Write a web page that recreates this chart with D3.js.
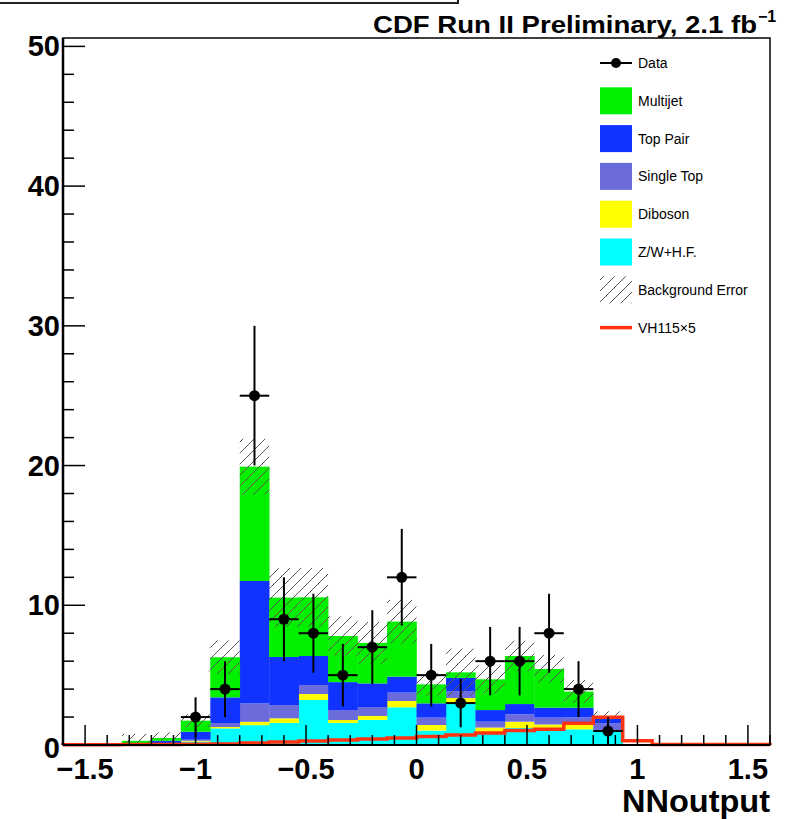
<!DOCTYPE html>
<html>
<head>
<meta charset="utf-8">
<script src="https://cdn.jsdelivr.net/npm/d3@7"></script>
<style>
  body { margin: 0; background: #fff; }
  svg { display: block; font-family: "Liberation Sans", Arial, Helvetica, sans-serif; }
</style>
</head>
<body>
<div id="chart"></div>
<script>
// histogram definition: 24 bins on [-1.6, 1.6]
const nBins = 24;
const xMin = -1.6;
const xMax = 1.6;

// stacked backgrounds, bottom to top (events per bin)
const zwHF = [0, 0, 0.02, 0.05, 0.24, 1.19, 1.42, 1.58, 3.22, 1.58, 1.8, 2.7, 1.03, 3.0, 0.85, 1.22, 1.15, 1.12, 0.95, 0, 0, 0, 0, 0];
const diboson = [0, 0, 0.01, 0.03, 0.06, 0.1, 0.24, 0.33, 0.43, 0.21, 0.28, 0.45, 0.4, 0.36, 0.4, 0.45, 0.32, 0.43, 0.1, 0, 0, 0, 0, 0];
const singleTop = [0, 0, 0.02, 0.04, 0.08, 0.28, 1.32, 0.95, 0.64, 0.71, 0.64, 0.6, 0.53, 0.49, 0.42, 0.53, 0.49, 0.43, 0.5, 0, 0, 0, 0, 0];
const topPair = [0, 0, 0.05, 0.18, 0.57, 1.84, 8.76, 3.44, 2.08, 2.0, 1.69, 1.14, 1.02, 0.95, 0.83, 0.73, 0.71, 0.69, 0.4, 0, 0, 0, 0, 0];
const multijet = [0, 0, 0.2, 0.2, 0.79, 2.87, 8.18, 4.25, 4.2, 3.3, 2.9, 3.94, 1.36, 0.4, 2.2, 3.44, 2.77, 1.15, 0.03, 0, 0, 0, 0, 0];

// background uncertainty (symmetric, around total)
const bkgErr = [0, 0, 0.5, 0.4, 0.46, 1.2, 2.0, 2.1, 2.1, 1.4, 1.5, 1.55, 0.8, 1.7, 1.0, 1.1, 1.0, 0.83, 0.43, 0, 0, 0, 0, 0];

// VH signal x5
const signal = [0.02, 0.02, 0.03, 0.04, 0.05, 0.07, 0.14, 0.22, 0.28, 0.36, 0.43, 0.5, 0.6, 0.72, 0.85, 1.03, 1.12, 1.55, 1.98, 0.31, 0.03, 0.03, 0.03, 0.03];

// observed events (null = empty bin)
const dataCounts = [null, null, null, null, 2, 4, 25, 9, 8, 5, 7, 12, 5, 3, 6, 6, 8, 4, 1, null, null, null, null, null];

const xTicks = [-1.5, -1, -0.5, 0, 0.5, 1, 1.5];
const yTicks = [0, 10, 20, 30, 40, 50];

const layers = [
  { name: "Z/W+H.F.", values: zwHF, color: "#00ffff" },
  { name: "Diboson", values: diboson, color: "#ffff00" },
  { name: "Single Top", values: singleTop, color: "#6b6bdc" },
  { name: "Top Pair", values: topPair, color: "#1033ff" },
  { name: "Multijet", values: multijet, color: "#00f000" },
];

const width = 785;
const height = 819;
const margin = { top: 38, right: 15, bottom: 74, left: 63 };

const svg = d3
  .select("#chart")
  .append("svg")
  .attr("width", width)
  .attr("height", height);

const x = d3.scaleLinear().domain([xMin, xMax]).range([margin.left, width - margin.right]);
const y = d3.scaleLinear().domain([0, 50.6]).range([height - margin.bottom, margin.top]);

const binW = (xMax - xMin) / nBins;
const bins = d3.range(nBins).map((i) => ({ i, lo: xMin + i * binW, hi: xMin + (i + 1) * binW }));

// hatch pattern for background error
const defs = svg.append("defs");
const pat = defs
  .append("pattern")
  .attr("id", "hatch")
  .attr("patternUnits", "userSpaceOnUse")
  .attr("width", 11)
  .attr("height", 11);
pat
  .append("path")
  .attr("d", "M-1,1 l2,-2 M0,11 l11,-11 M10,12 l2,-2")
  .attr("stroke", "#555")
  .attr("stroke-width", 1);

// the cut-off box at the very top
svg
  .append("rect")
  .attr("x", -5)
  .attr("y", -20)
  .attr("width", 463)
  .attr("height", 23)
  .attr("fill", "none")
  .attr("stroke", "#222")
  .attr("stroke-width", 2);

// stacked histograms
const stackG = svg.append("g");
let base = new Array(nBins).fill(0);
layers.forEach((layer) => {
  const lo = base.slice();
  const hi = base.map((b, i) => b + layer.values[i]);
  stackG
    .append("g")
    .selectAll("rect")
    .data(bins.filter((b) => layer.values[b.i] > 0))
    .join("rect")
    .attr("x", (b) => x(b.lo))
    .attr("width", (b) => x(b.hi) - x(b.lo) + 0.3)
    .attr("y", (b) => y(hi[b.i]))
    .attr("height", (b) => y(lo[b.i]) - y(hi[b.i]))
    .attr("fill", layer.color);
  base = hi;
});
const total = base;

// background error band
svg
  .append("g")
  .selectAll("rect")
  .data(bins.filter((b) => bkgErr[b.i] > 0))
  .join("rect")
  .attr("x", (b) => x(b.lo))
  .attr("width", (b) => x(b.hi) - x(b.lo))
  .attr("y", (b) => y(total[b.i] + bkgErr[b.i]))
  .attr("height", (b) => y(Math.max(0, total[b.i] - bkgErr[b.i])) - y(total[b.i] + bkgErr[b.i]))
  .attr("fill", "url(#hatch)");

// signal step line
const stepPts = [[xMin, 0]];
bins.forEach((b) => {
  stepPts.push([b.lo, signal[b.i]]);
  stepPts.push([b.hi, signal[b.i]]);
});
stepPts.push([xMax, 0]);
svg
  .append("path")
  .datum(stepPts)
  .attr("fill", "none")
  .attr("stroke", "#ff3311")
  .attr("stroke-width", 3.5)
  .attr("d", d3.line().x((d) => x(d[0])).y((d) => y(d[1])));

// axes frame and ticks
const frame = svg.append("g").attr("stroke", "#000");
frame
  .append("rect")
  .attr("x", x(xMin))
  .attr("y", y.range()[1])
  .attr("width", x(xMax) - x(xMin))
  .attr("height", y(0) - y.range()[1])
  .attr("fill", "none")
  .attr("stroke-width", 1.5);
frame
  .append("line")
  .attr("x1", x(xMin))
  .attr("x2", x(xMin))
  .attr("y1", y.range()[1])
  .attr("y2", y(0))
  .attr("stroke-width", 2.5);
frame
  .append("line")
  .attr("x1", x(xMin))
  .attr("x2", x(xMax))
  .attr("y1", y(0))
  .attr("y2", y(0))
  .attr("stroke-width", 2);

const xMinor = d3.range(-16, 17).map((k) => k / 10);
frame
  .selectAll(".xt")
  .data(xMinor)
  .join("line")
  .attr("x1", (d) => x(d))
  .attr("x2", (d) => x(d))
  .attr("y1", y(0))
  .attr("y2", (d) => y(0) - (Math.abs(d * 2 - Math.round(d * 2)) < 1e-6 ? 20 : 10))
  .attr("stroke-width", 1.5);

const yMinor = d3.range(0, 51, 2);
frame
  .selectAll(".yt")
  .data(yMinor)
  .join("line")
  .attr("x1", x(xMin))
  .attr("x2", (d) => x(xMin) + (d % 10 === 0 ? 22 : 11))
  .attr("y1", (d) => y(d))
  .attr("y2", (d) => y(d))
  .attr("stroke-width", 1.5);

// tick labels
svg
  .append("g")
  .selectAll("text")
  .data(xTicks)
  .join("text")
  .attr("x", (d) => x(d))
  .attr("y", y(0) + 34)
  .attr("text-anchor", "middle")
  .attr("font-size", 29)
  .attr("font-weight", "bold")
  .text((d) => (d < 0 ? "\u2212" + Math.abs(d) : d));

svg
  .append("g")
  .selectAll("text")
  .data(yTicks)
  .join("text")
  .attr("x", x(xMin) - 3)
  .attr("y", (d) => y(d) + (d === 0 ? 13 : 10))
  .attr("text-anchor", "end")
  .attr("font-size", 29)
  .attr("font-weight", "bold")
  .text((d) => d);

svg
  .append("text")
  .attr("x", 622)
  .attr("y", 812)
  .attr("font-size", 31)
  .attr("font-weight", "bold")
  .attr("textLength", 148)
  .attr("lengthAdjust", "spacingAndGlyphs")
  .text("NNoutput");

// title
const title = svg
  .append("g")
  .attr("font-weight", "bold");
title
  .append("text")
  .attr("x", 373)
  .attr("y", 33)
  .attr("font-size", 24)
  .attr("textLength", 384)
  .attr("lengthAdjust", "spacingAndGlyphs")
  .text("CDF Run II Preliminary, 2.1 fb");
title
  .append("text")
  .attr("x", 758)
  .attr("y", 22)
  .attr("font-size", 16)
  .text("\u22121");

// data points with errors
const dataBins = bins.filter((b) => dataCounts[b.i] != null);
const dataG = svg.append("g").attr("stroke", "#000").attr("stroke-width", 2);
dataG
  .selectAll(".ev")
  .data(dataBins)
  .join("line")
  .attr("x1", (b) => x((b.lo + b.hi) / 2))
  .attr("x2", (b) => x((b.lo + b.hi) / 2))
  .attr("y1", (b) => y(dataCounts[b.i] + Math.sqrt(dataCounts[b.i])))
  .attr("y2", (b) => y(Math.max(0, dataCounts[b.i] - Math.sqrt(dataCounts[b.i]))));
dataG
  .selectAll(".eh")
  .data(dataBins)
  .join("line")
  .attr("x1", (b) => x(b.lo))
  .attr("x2", (b) => x(b.hi))
  .attr("y1", (b) => y(dataCounts[b.i]))
  .attr("y2", (b) => y(dataCounts[b.i]));
svg
  .append("g")
  .selectAll("circle")
  .data(dataBins)
  .join("circle")
  .attr("cx", (b) => x((b.lo + b.hi) / 2))
  .attr("cy", (b) => y(dataCounts[b.i]))
  .attr("r", 5.5)
  .attr("fill", "#000");

// legend
const legendItems = [
  { name: "Data", kind: "data" },
  { name: "Multijet", kind: "box", color: "#00f000" },
  { name: "Top Pair", kind: "box", color: "#1033ff" },
  { name: "Single Top", kind: "box", color: "#6b6bdc" },
  { name: "Diboson", kind: "box", color: "#ffff00" },
  { name: "Z/W+H.F.", kind: "box", color: "#00ffff" },
  { name: "Background Error", kind: "hatch" },
  { name: "VH115\u00d75", kind: "line" },
];
const legend = svg.append("g");
legendItems.forEach((item, k) => {
  const cy = 63 + k * 37.8;
  const g = legend.append("g");
  if (item.kind === "data") {
    g.append("line").attr("x1", 600).attr("x2", 632).attr("y1", cy).attr("y2", cy).attr("stroke", "#000").attr("stroke-width", 2);
    g.append("circle").attr("cx", 616).attr("cy", cy).attr("r", 5).attr("fill", "#000");
  } else if (item.kind === "box") {
    g.append("rect").attr("x", 600).attr("y", cy - 13.5).attr("width", 32).attr("height", 27).attr("fill", item.color);
  } else if (item.kind === "hatch") {
    g.append("rect").attr("x", 600).attr("y", cy - 13.5).attr("width", 32).attr("height", 27).attr("fill", "url(#hatch)");
  } else {
    g.append("line").attr("x1", 600).attr("x2", 632).attr("y1", cy).attr("y2", cy).attr("stroke", "#ff3311").attr("stroke-width", 3.5);
  }
  g.append("text")
    .attr("x", 638)
    .attr("y", cy + 5)
    .attr("font-size", 14)
    .text(item.name);
});
</script>
</body>
</html>
